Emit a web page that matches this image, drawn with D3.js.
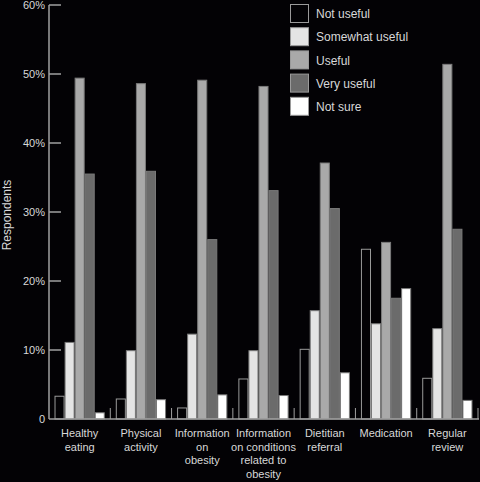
<!DOCTYPE html>
<html>
<head>
<meta charset="utf-8">
<script src="https://cdn.jsdelivr.net/npm/d3@7"></script>
<style>
  html, body { margin: 0; padding: 0; background: #030205; }
  svg { display: block; font-family: "Liberation Sans", Arial, sans-serif; }
</style>
</head>
<body>
<svg id="chart" width="480" height="482"></svg>
<script>
// categories (x axis), one line per array entry
var categories = [
    ['Healthy', 'eating'],
    ['Physical', 'activity'],
    ['Information', 'on', 'obesity'],
    ['Information', 'on conditions', 'related to', 'obesity'],
    ['Dietitian', 'referral'],
    ['Medication'],
    ['Regular', 'review']
];

var seriesNames = ['Not useful', 'Somewhat useful', 'Useful', 'Very useful', 'Not sure'];
var seriesColors = ['#030205', '#e4e4e4', '#a9a9a9', '#6b6b6b', '#ffffff'];

// percentages, one array per series, in category order
var notUseful      = [3.3, 2.9, 1.6, 5.8, 10.1, 24.6, 5.9];
var somewhatUseful = [11.1, 9.9, 12.3, 9.9, 15.7, 13.8, 13.1];
var useful         = [49.4, 48.6, 49.1, 48.2, 37.1, 25.6, 51.4];
var veryUseful     = [35.5, 35.9, 26.0, 33.1, 30.5, 17.5, 27.5];
var notSure        = [0.9, 2.8, 3.5, 3.4, 6.7, 18.9, 2.7];

var yTicks = [0, 10, 20, 30, 40, 50, 60];
var yTickLabels = ['0', '10%', '20%', '30%', '40%', '50%', '60%'];

var seriesValues = [notUseful, somewhatUseful, useful, veryUseful, notSure];

var svg = d3.select('#chart');
var axisColor = '#a0a0a0';
var textColor = '#d8d8d8';

var catKeys = categories.map(function(c, i) { return 'c' + i; });

var x0 = d3.scaleBand()
    .domain(catKeys)
    .range([49, 478])
    .paddingInner(0.18)
    .paddingOuter(0.09);

var x1 = d3.scaleBand()
    .domain(seriesNames)
    .range([0, x0.bandwidth()]);

var y = d3.scaleLinear()
    .domain([0, 60])
    .range([419, 5]);

// bars
var groups = svg.append('g').selectAll('g')
    .data(catKeys)
    .enter()
    .append('g')
    .attr('transform', function(k) { return 'translate(' + x0(k) + ',0)'; });

groups.selectAll('rect')
    .data(function(k, i)
    {
        return seriesNames.map(function(name, s)
        {
            return {name: name, value: seriesValues[s][i], color: seriesColors[s]};
        });
    })
    .enter()
    .append('rect')
    .attr('x', function(d) { return x1(d.name) + 0.5; })
    .attr('y', function(d) { return y(d.value); })
    .attr('width', x1.bandwidth() - 1)
    .attr('height', function(d) { return y(0) - y(d.value); })
    .attr('fill', function(d) { return d.color; })
    .attr('stroke', function(d) { return d.name == 'Not useful' ? '#9a9a9a' : '#7a7a7a'; })
    .attr('stroke-width', 1);

// y axis
var yAxis = svg.append('g');
yAxis.append('line')
    .attr('x1', 49).attr('x2', 49)
    .attr('y1', y(60)).attr('y2', y(0))
    .attr('stroke', axisColor).attr('stroke-width', 1.5);

yAxis.selectAll('.ytick')
    .data(yTicks)
    .enter()
    .append('line')
    .attr('x1', 49).attr('x2', 61)
    .attr('y1', function(d) { return y(d); })
    .attr('y2', function(d) { return y(d); })
    .attr('stroke', function(d) { return d === 0 ? 'none' : axisColor; })
    .attr('stroke-width', 1.5);

yAxis.selectAll('.ylabel')
    .data(yTicks)
    .enter()
    .append('text')
    .attr('x', 45)
    .attr('y', function(d) { return y(d); })
    .attr('dy', '0.35em')
    .attr('text-anchor', 'end')
    .attr('font-size', 11)
    .attr('fill', textColor)
    .text(function(d, i) { return yTickLabels[i]; });

svg.append('text')
    .attr('transform', 'translate(11,215) rotate(-90)')
    .attr('text-anchor', 'middle')
    .attr('font-size', 12)
    .attr('fill', textColor)
    .text('Respondents');

// x axis
svg.append('line')
    .attr('x1', 49).attr('x2', 479)
    .attr('y1', y(0)).attr('y2', y(0))
    .attr('stroke', axisColor).attr('stroke-width', 1.5);

var gap = x0.step() * x0.paddingInner();
svg.append('g').selectAll('line')
    .data(catKeys)
    .enter()
    .append('line')
    .attr('x1', function(k) { return x0(k) + x0.bandwidth() + gap / 2; })
    .attr('x2', function(k) { return x0(k) + x0.bandwidth() + gap / 2; })
    .attr('y1', y(0) - 11)
    .attr('y2', y(0))
    .attr('stroke', axisColor)
    .attr('stroke-width', 1);

var xLabels = svg.append('g').selectAll('text')
    .data(catKeys)
    .enter()
    .append('text')
    .attr('text-anchor', 'middle')
    .attr('font-size', 11)
    .attr('fill', textColor)
    .attr('x', function(k) { return x0(k) + x0.bandwidth() / 2; })
    .attr('y', 437);

xLabels.each(function(k, i)
{
    var el = d3.select(this);
    categories[i].forEach(function(line, j)
    {
        el.append('tspan')
            .attr('x', x0(k) + x0.bandwidth() / 2)
            .attr('dy', j === 0 ? 0 : 13.5)
            .text(line);
    });
});

// legend
var legend = svg.append('g').attr('transform', 'translate(290,4)');
var items = legend.selectAll('g')
    .data(seriesNames)
    .enter()
    .append('g')
    .attr('transform', function(d, i) { return 'translate(0,' + (i * 23.2) + ')'; });

items.append('rect')
    .attr('x', 0.5).attr('y', 0.5)
    .attr('width', 18).attr('height', 18)
    .attr('fill', function(d, i) { return seriesColors[i]; })
    .attr('stroke', '#9a9a9a');

items.append('text')
    .attr('x', 26)
    .attr('y', 10)
    .attr('dy', '0.35em')
    .attr('font-size', 12)
    .attr('fill', textColor)
    .text(function(d) { return d; });
</script>
</body>
</html>
